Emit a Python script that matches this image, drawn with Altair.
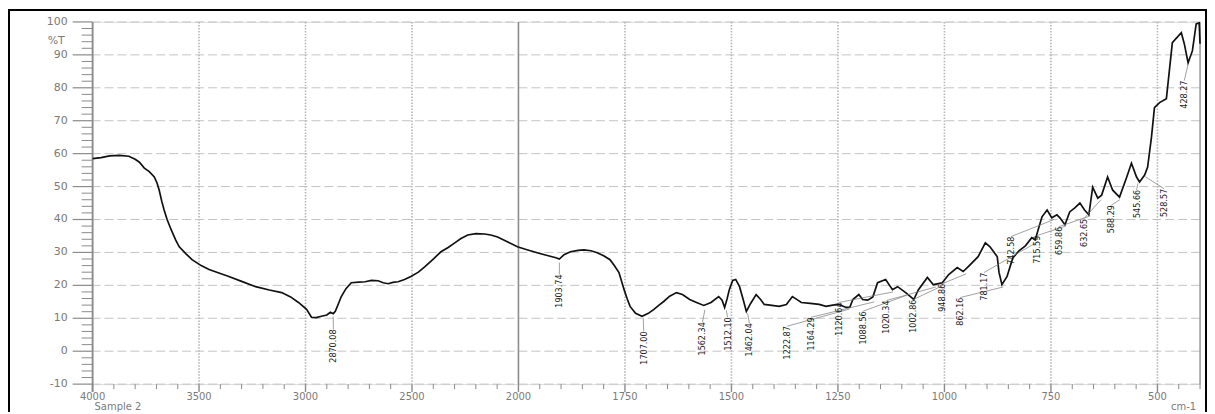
import altair as alt
import pandas as pd

# ---- spectrum (wavenumber cm-1, %T) ----
wn = [4000, 3960, 3920, 3874, 3830, 3800, 3780, 3757, 3735, 3710, 3697, 3687, 3675, 3664, 3650,
      3631, 3610, 3593, 3560, 3533, 3490, 3453, 3400, 3360, 3300, 3234, 3170, 3112, 3070, 3033,
      2995, 2972, 2950, 2925, 2900, 2883, 2870, 2860, 2845, 2832, 2810, 2785, 2750, 2720, 2690,
      2659, 2635, 2612, 2590, 2565, 2535, 2505, 2470, 2439, 2400, 2364, 2330, 2299, 2270, 2238,
      2200, 2159, 2130, 2098, 2050, 2005, 1980, 1956, 1930, 1912, 1904, 1893, 1878, 1860, 1846,
      1830, 1815, 1800, 1785, 1775, 1764, 1752, 1745, 1738, 1725, 1710, 1695, 1682, 1670, 1659,
      1645, 1629, 1615, 1598, 1582, 1565, 1548, 1530, 1522, 1516, 1510, 1505, 1497, 1490, 1481,
      1472, 1465, 1455, 1442, 1432, 1423, 1405, 1388, 1371, 1357, 1345, 1336, 1315, 1294, 1278,
      1262, 1248, 1231, 1222, 1215, 1201, 1192, 1180, 1168, 1157, 1138, 1122, 1110, 1091, 1072,
      1061, 1040, 1026, 1005, 990, 970, 956, 944, 921, 904, 893, 876, 872, 865, 853,
      843, 839, 825, 810, 795, 787, 771, 759, 748, 736, 729, 717, 706, 694, 682,
      671, 661, 652, 640, 631, 617, 605, 589, 572, 561, 549, 542, 530, 523, 514,
      507, 495, 479, 472, 465, 444, 437, 428, 418, 409, 402, 400]
tr = [58.5, 58.8, 59.3, 59.5, 59.2, 58.3, 57.4, 55.6, 54.6, 52.9, 51.0, 48.9, 45.5, 42.9, 40.0,
      36.9, 33.8, 31.7, 29.5, 27.8, 26.0, 24.8, 23.6, 22.7, 21.2, 19.6, 18.6, 17.8, 16.5, 14.8,
      12.7, 10.3, 10.2, 10.6, 11.0, 11.8, 11.4, 12.1, 14.5, 16.6, 19.0, 20.8, 21.0, 21.1, 21.5,
      21.4, 20.8, 20.5, 20.9, 21.1, 21.8, 22.7, 24.0, 25.7, 28.0, 30.2, 31.5, 32.9, 34.2, 35.3,
      35.7, 35.6, 35.3, 34.7, 33.2, 31.7, 30.8, 29.9, 29.0, 28.4, 28.0, 29.3, 30.2, 30.6, 30.8,
      30.5, 29.9, 29.0, 27.8, 26.0, 23.9, 18.7, 16.0, 13.6, 11.5, 10.6, 11.5, 12.7, 14.0, 15.1,
      16.7, 17.8, 17.2, 15.7, 14.8, 13.9, 14.8, 16.6, 15.5, 13.3, 16.0, 18.7, 21.5, 21.8, 19.6,
      15.5, 12.1, 14.5, 17.2, 15.8, 14.2, 13.9, 13.6, 14.2, 16.6, 15.6, 14.8, 14.5, 14.2, 13.6,
      14.0, 14.2, 13.3, 13.4, 15.7, 17.2, 15.7, 15.5, 16.5, 20.8, 21.8, 18.7, 19.6, 17.8, 15.7,
      18.7, 22.4, 20.2, 20.8, 23.3, 25.4, 24.2, 25.7, 28.7, 32.9, 31.7, 28.7, 24.0, 20.2, 22.7,
      26.9, 28.4, 30.5, 32.0, 34.5, 33.8, 40.8, 42.9, 40.5, 41.4, 40.5, 38.4, 42.3, 43.5, 45.0,
      42.9, 41.4, 49.8, 46.5, 47.4, 52.9, 48.9, 46.8, 52.9, 57.1, 52.9, 51.4, 53.5, 55.9, 65.0,
      74.0, 75.5, 76.7, 85.2, 93.7, 96.7, 93.4, 87.6, 91.2, 99.4, 99.7, 93.4]

# ---- peak labels ----
peak_text = ["2870.08", "1903.74", "1707.00", "1562.34", "1512.10", "1462.04", "1222.87",
             "1164.29", "1120.64", "1088.56", "1020.34", "1002.86", "948.86", "862.16",
             "781.17", "742.58", "715.59", "659.86", "632.65", "588.29", "545.66", "528.57",
             "428.27"]
label_wn = [2869, 1904, 1706, 1568, 1509, 1458, 1369, 1313, 1248, 1192, 1136, 1073, 1005, 963,
            907, 844, 783, 732, 673, 608, 549, 484, 437]
label_top = [6.6, 23.3, 6.0, 8.8, 10.3, 8.5, 7.6, 10.3, 14.8, 12.1, 15.4, 15.7, 20.5, 16.3,
             23.9, 34.8, 35.1, 37.8, 40.2, 44.4, 49.0, 49.3, 82.2]
tip_t = [10.5, 26.9, 10.0, 12.6, 12.4, 11.5, 12.8, 15.0, 18.0, 17.0, 19.5, 20.0, 23.5, 19.5,
         33.2, 40.0, 38.0, 41.0, 46.0, 46.0, 51.0, 53.0, 87.0]

# ---- axes ----
y_ticks = list(range(-10, 101, 10))
y_tick_labels = ["-10", "0", "10", "20", "30", "40", "50", "60", "70", "80", "90", "100"]
y_minor = [v for v in range(-10, 101, 2) if v % 10 != 0]
x_major = [4000, 3500, 3000, 2500, 2000, 1750, 1500, 1250, 1000, 750, 500]
x_tick_labels = ["4000", "3500", "3000", "2500", "2000", "1750", "1500", "1250", "1000", "750", "500"]
x_grid = [3500, 3000, 2500, 1750, 1500, 1250, 1000, 750, 500]
x_minor = [v for v in range(3900, 2000, -100) if v % 500 != 0] + \
          [v for v in range(1950, 399, -50) if v % 250 != 0]

W, H = 1113, 364
xs = alt.Scale(domain=[4000, 2000, 400], range=[0, 428, W], nice=False, zero=False)
ys = alt.Scale(domain=[-10, 100], nice=False, zero=False)

spec = pd.DataFrame({"wn": wn, "t": tr, "i": range(len(wn))})
lab = pd.DataFrame({"txt": peak_text, "lw": label_wn, "lt": label_top,
                    "pw": [float(s) for s in peak_text], "pt": tip_t})

AX_FONT = "DejaVu Sans"
LBL_FONT = "Liberation Sans Narrow, DejaVu Sans Condensed, Roboto Condensed, Liberation Sans, Arial, sans-serif"
GRAY = "#8a8a8a"
TXT_GRAY = "#7a7a7a"


def X(field):
    return alt.X(field, scale=xs, axis=None)


def Y(field):
    return alt.Y(field, scale=ys, axis=None)


hgrid = alt.Chart(pd.DataFrame({"v": y_ticks})).mark_rule(
    color="#c4c4c4", strokeWidth=1, strokeDash=[9, 4]
).encode(y=Y("v:Q"))

vgrid = alt.Chart(pd.DataFrame({"v": x_grid})).mark_rule(
    color="#b5b5b5", strokeWidth=1.6, strokeDash=[1.5, 1.5]
).encode(x=X("v:Q"))

split_line = alt.Chart(pd.DataFrame({"v": [2000]})).mark_rule(
    color="#8c8c8c", strokeWidth=1.6
).encode(x=X("v:Q"))

right_edge = alt.Chart(pd.DataFrame({"v": [400]})).mark_rule(
    color="#9a9a9a", strokeWidth=1.5
).encode(x=X("v:Q"))

y_minor_ticks = alt.Chart(pd.DataFrame({"v": y_minor})).mark_rule(
    color=GRAY, strokeWidth=1
).encode(y=Y("v:Q"), x=alt.value(-11), x2=alt.value(0))

y_major_ticks = alt.Chart(pd.DataFrame({"v": y_ticks})).mark_rule(
    color=GRAY, strokeWidth=1.2
).encode(y=Y("v:Q"), x=alt.value(-20), x2=alt.value(0))

y_labels = alt.Chart(pd.DataFrame({"v": y_ticks, "s": y_tick_labels})).mark_text(
    align="right", baseline="middle", font=AX_FONT, fontSize=11, color=TXT_GRAY
).encode(y=Y("v:Q"), x=alt.value(-25), text="s:N")

y_domain = alt.Chart(pd.DataFrame({"v": [4000]})).mark_rule(
    color=GRAY, strokeWidth=1.8
).encode(x=X("v:Q"), y=alt.value(0), y2=alt.value(H + 8))

x_minor_ticks = alt.Chart(pd.DataFrame({"v": x_minor})).mark_rule(
    color=GRAY, strokeWidth=1
).encode(x=X("v:Q"), y=alt.value(H), y2=alt.value(H + 5))

x_major_ticks = alt.Chart(pd.DataFrame({"v": x_major})).mark_rule(
    color=GRAY, strokeWidth=1.4
).encode(x=X("v:Q"), y=alt.value(H), y2=alt.value(H + 8))

x_labels = alt.Chart(pd.DataFrame({"v": x_major, "s": x_tick_labels})).mark_text(
    align="center", baseline="middle", font=AX_FONT, fontSize=10, color=TXT_GRAY
).encode(x=X("v:Q"), y=alt.value(H + 13), text="s:N")

line = alt.Chart(spec).mark_line(color="#111111", strokeWidth=1.7).encode(
    x=X("wn:Q"), y=Y("t:Q"), order="i:Q",
)

leaders = alt.Chart(lab).mark_rule(color="#777777", strokeWidth=0.7).encode(
    x=X("lw:Q"), y=Y("lt:Q"), x2="pw:Q", y2="pt:Q",
)

texts = alt.Chart(lab).mark_text(
    angle=270, align="right", baseline="middle", font=LBL_FONT,
    fontSize=9, color="#1a1a1a"
).encode(x=X("lw:Q"), y=Y("lt:Q"), text="txt:N")

corner_text = ["%T", "Sample 2", "cm-1"]
pct = alt.Chart(pd.DataFrame({"s": [corner_text[0]]})).mark_text(
    align="right", baseline="middle", font=AX_FONT, fontSize=11, color=TXT_GRAY
).encode(x=alt.value(-28), y=alt.value(19), text="s:N")
sample = alt.Chart(pd.DataFrame({"s": [corner_text[1]]})).mark_text(
    align="left", baseline="middle", font=AX_FONT, fontSize=10, color=TXT_GRAY
).encode(x=alt.value(2), y=alt.value(H + 23), text="s:N")
unit = alt.Chart(pd.DataFrame({"s": [corner_text[2]]})).mark_text(
    align="right", baseline="middle", font=AX_FONT, fontSize=10, color=TXT_GRAY
).encode(x=alt.value(W - 4), y=alt.value(H + 23), text="s:N")

frame = alt.Chart(pd.DataFrame({"a": [0]})).mark_rect(
    fill=None, stroke="#000000", strokeWidth=2
).encode(x=alt.value(-84), x2=alt.value(W + 6), y=alt.value(-12), y2=alt.value(H + 40))

chart = alt.layer(
    hgrid, vgrid, split_line, right_edge, y_minor_ticks, y_major_ticks, y_labels,
    y_domain, x_minor_ticks, x_major_ticks, x_labels, line,
    leaders, texts, pct, sample, unit, frame
).properties(
    width=W, height=H,
    autosize=alt.AutoSizeParams(type="none"),
    padding={"left": 85, "top": 13, "right": 7, "bottom": 27},
).configure_view(stroke=None).configure(background="white")

chart.save("out.html", embed_options={"renderer": "svg", "actions": False})
